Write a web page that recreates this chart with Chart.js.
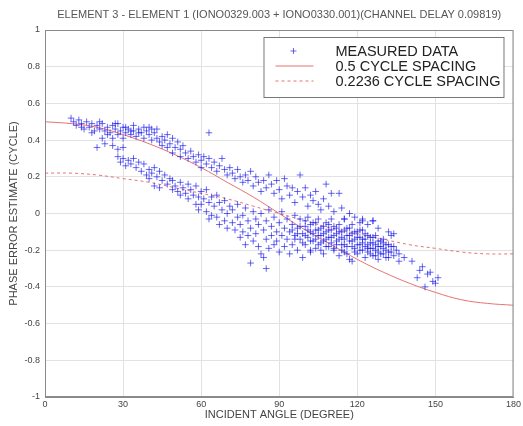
<!DOCTYPE html>
<html lang="en">
<head>
  <meta charset="UTF-8">
  <title>Phase error estimate</title>
  <script src="https://cdn.jsdelivr.net/npm/chart.js"></script>
  <style>
    body {
      margin: 0;
      background: #fff;
    }
    #chart-container {
      width: 523px;
      height: 426px;
    }
  </style>
</head>
<body>
  <div id="chart-container">
    <canvas id="phaseChart" width="523" height="426"></canvas>
  </div>

  <script>
// axis ticks
const xTickValues = [0, 30, 60, 90, 120, 150, 180];
const yTickValues = [-1, -0.8, -0.6, -0.4, -0.2, 0, 0.2, 0.4, 0.6, 0.8, 1];
const yTickLabels = ["-1", "-0.8", "-0.6", "-0.4", "-0.2", "0", "0.2", "0.4", "0.6", "0.8", "1"];

// model curves, every 10 degrees
const curveAngle = [0, 10, 20, 30, 40, 50, 60, 70, 80, 90, 100, 110, 120, 130, 140, 150, 160, 170, 180];
const halfCycle = [0.50, 0.49, 0.47, 0.43, 0.38, 0.32, 0.25, 0.17, 0.09, 0.00, -0.09, -0.17, -0.25, -0.32, -0.38, -0.43, -0.47, -0.49, -0.50];
const smallCycle = [0.22, 0.22, 0.21, 0.19, 0.17, 0.14, 0.11, 0.08, 0.04, 0.00, -0.04, -0.08, -0.11, -0.14, -0.17, -0.19, -0.21, -0.22, -0.22];

// measured points (angle, phase)
const measuredAngle = [
  10, 11, 12, 13, 14, 15, 16, 17, 18, 19, 20, 20, 21, 22, 22, 23, 23, 24, 25, 26, 26, 26, 27, 28, 28, 28, 29, 30, 30, 30,
  31, 32, 33, 34, 34, 35, 36, 37, 38, 39, 40, 40, 41, 42, 43, 43, 44, 45, 45, 46, 47, 47, 48, 49, 49, 50, 51, 52, 52, 53,
  54, 55, 56, 57, 58, 59, 60, 60, 63,
  14, 18, 21, 24, 27, 31, 33, 36, 38, 41,
  61, 62, 63, 64, 65, 66, 67, 68, 69, 70, 71, 72, 73, 74, 75, 76, 77, 78, 79, 80, 81, 82, 83, 84, 85, 86, 87, 88, 89, 90,
  91, 92, 93, 94, 95, 96, 97, 98, 99, 100, 101, 102, 103, 104, 105, 106, 107, 108, 109, 110, 111, 113, 114, 115, 117, 119,
  121, 122, 124, 126, 128, 130, 132, 133, 134,
  28, 29, 30, 31, 32, 33, 34, 35, 36, 37, 38, 39, 40, 40, 41, 42, 42, 43, 44, 44, 45, 46, 47, 48, 49, 49, 50, 51, 52, 52,
  53, 54, 55, 55, 56, 57, 58, 58, 59, 59, 60, 60, 61, 62, 62, 63, 63, 64, 64, 65, 66, 66, 67, 67, 68, 69, 69, 70, 70, 71,
  72, 72, 73, 74, 74, 75, 75, 76, 76, 77, 77, 78, 78, 79, 79, 80, 80, 81, 81, 82, 82, 83, 83, 84, 84, 85, 85, 85, 86, 86,
  87, 87, 88, 88, 89, 89, 90, 90, 91, 91, 92, 92, 93, 93, 94, 94, 95, 95, 96, 96, 97, 97, 98, 98, 99, 99, 100, 100, 101, 101,
  102, 102, 103, 103, 104, 104, 105, 105, 106, 106, 107, 107, 108, 108, 109, 109, 110, 110, 111, 111, 112, 112, 113, 113, 114, 114, 115, 115, 116, 116,
  117, 117, 118, 118, 118, 119, 119, 120, 120, 121, 121, 122, 122, 123, 123, 124, 124, 125, 125, 126, 126, 127, 127, 128, 128, 129, 129, 130, 131, 131,
  132, 133, 134, 135, 136, 138, 141, 143, 144, 145, 146, 147, 148, 149, 150, 151, 122, 126, 115, 102,
  95, 96, 97, 98, 99, 100, 100, 101, 102, 102, 103, 104, 104, 105, 105, 106, 106, 107, 107, 108, 108, 109, 109, 110, 110,
  111, 111, 112, 112, 113, 113, 114, 114, 115, 115, 116, 116, 117, 117, 118, 118, 119, 119, 120, 120, 121, 121, 122, 122,
  123, 123, 124, 124, 125, 125, 126, 126, 127, 127, 128, 128, 129, 130, 130, 131, 132, 132, 133, 134, 136
];
const measuredPhase = [
  0.52, 0.50, 0.48, 0.51, 0.49, 0.46, 0.50, 0.47, 0.49, 0.45, 0.48, 0.36, 0.46, 0.41, 0.49, 0.38, 0.45, 0.47, 0.44, 0.41, 0.37, 0.48, 0.46, 0.43, 0.49, 0.35, 0.45, 0.41, 0.47, 0.36,
  0.44, 0.46, 0.43, 0.48, 0.45, 0.42, 0.46, 0.44, 0.41, 0.45, 0.47, 0.43, 0.40, 0.44, 0.46, 0.41, 0.39, 0.42, 0.37, 0.40, 0.36, 0.43, 0.38, 0.33, 0.41, 0.36, 0.39, 0.31, 0.35, 0.37,
  0.33, 0.30, 0.34, 0.31, 0.28, 0.32, 0.29, 0.25, 0.44,
  0.47, 0.44, 0.50, 0.43, 0.49, 0.47, 0.45, 0.44, 0.47, 0.46,
  0.31, 0.27, 0.30, 0.25, 0.28, 0.23, 0.26, 0.30, 0.24, 0.21, 0.25, 0.22, 0.19, 0.24, 0.20, 0.17, 0.21, 0.18, 0.23, 0.15, 0.20, 0.17, 0.12, 0.18, 0.14, 0.21, 0.16, 0.11, 0.18, 0.13,
  0.08, 0.19, 0.15, 0.10, 0.14, 0.06, 0.12, 0.21, 0.09, 0.14, 0.04, 0.10, 0.07, 0.12, 0.05, 0.02, 0.08, 0.16, 0.04, 0.11, 0.01, 0.11, 0.03, -0.03, 0.00, -0.02,
  -0.05, -0.03, -0.06, -0.04, -0.08, -0.14, -0.10, -0.12, -0.11,
  0.31, 0.28, 0.30, 0.26, 0.29, 0.27, 0.30, 0.25, 0.28, 0.23, 0.27, 0.21, 0.24, 0.19, 0.22, 0.15, 0.25, 0.20, 0.14, 0.23, 0.18, 0.21, 0.16, 0.19, 0.13, 0.18, 0.15, 0.12, 0.17, 0.10,
  0.14, 0.11, 0.16, 0.08, 0.13, 0.10, 0.15, 0.05, 0.09, 0.02, 0.12, 0.05, 0.08, 0.01, 0.13, 0.06, -0.03, 0.09, -0.01, 0.04, 0.10, -0.02, 0.06, -0.06, 0.02, -0.04, 0.07, 0.00, -0.08, 0.04,
  -0.05, 0.02, -0.09, -0.02, 0.05, -0.06, -0.13, -0.01, -0.10, -0.17, 0.03, -0.04, -0.12, -0.08, -0.27, -0.15, 0.01, -0.03, -0.11, -0.18, -0.06, -0.22, 0.00, -0.09, -0.24, -0.14, -0.04, -0.30, -0.19, 0.02,
  -0.07, -0.12, -0.17, -0.02, -0.10, -0.15, -0.05, -0.21, -0.12, 0.01, -0.08, -0.18, -0.03, -0.14, -0.10, -0.22, -0.06, -0.17, -0.01, -0.12, -0.20, -0.08, -0.14, -0.03, -0.11, -0.24, -0.07, -0.17, -0.13, -0.02,
  -0.10, -0.21, -0.05, -0.15, -0.09, -0.19, -0.12, -0.03, -0.16, -0.08, -0.22, -0.11, -0.05, -0.14, -0.18, -0.09, -0.13, -0.03, -0.20, -0.07, -0.15, -0.11, -0.23, -0.06, -0.17, -0.10, -0.14, -0.21, -0.08, -0.18,
  -0.12, -0.25, -0.15, -0.06, -0.26, -0.19, -0.10, -0.13, -0.22, -0.17, -0.09, -0.20, -0.14, -0.11, -0.24, -0.17, -0.21, -0.13, -0.19, -0.23, -0.16, -0.20, -0.12, -0.18, -0.25, -0.22, -0.15, -0.19, -0.24, -0.17,
  -0.21, -0.18, -0.23, -0.20, -0.26, -0.24, -0.26, -0.35, -0.31, -0.29, -0.40, -0.33, -0.32, -0.37, -0.38, -0.35, -0.04, -0.04, -0.03, -0.20,
  -0.09, -0.14, -0.11, -0.07, -0.16, -0.12, -0.04, -0.09, -0.15, -0.06, -0.11, -0.14, -0.05, -0.17, -0.09, -0.12, -0.20, -0.07, -0.15, -0.10, -0.18, -0.13, -0.06, -0.16, -0.09,
  -0.12, -0.19, -0.08, -0.17, -0.14, -0.10, -0.20, -0.13, -0.09, -0.17, -0.12, -0.22, -0.15, -0.08, -0.18, -0.11, -0.14, -0.21, -0.10, -0.17, -0.13, -0.20, -0.16, -0.09,
  -0.18, -0.14, -0.12, -0.19, -0.16, -0.22, -0.13, -0.19, -0.17, -0.23, -0.15, -0.21, -0.18, -0.16, -0.22, -0.20, -0.17, -0.24, -0.21, -0.18, -0.22
];

const legendLabels = ["MEASURED DATA", "0.5 CYCLE SPACING", "0.2236 CYCLE SPACING"];

const measuredPoints = measuredAngle.map((a, i) => ({ x: a, y: measuredPhase[i] }));
const halfPoints = curveAngle.map((a, i) => ({ x: a, y: halfCycle[i] }));
const smallPoints = curveAngle.map((a, i) => ({ x: a, y: smallCycle[i] }));

const pointBlue = "rgba(25, 25, 235, 0.65)";
const curveRed = "rgba(228, 100, 100, 0.9)";
const textFont = "'Liberation Sans', Arial, sans-serif";

// legend box drawn inside the plot, plus the frame round the plot
const boxLegend = {
  id: "boxLegend",
  afterDraw(chart) {
    const ctx = chart.ctx;
    const area = chart.chartArea;
    ctx.save();
    ctx.strokeStyle = "#8a8a8a";
    ctx.lineWidth = 1;
    ctx.strokeRect(area.left + 0.5, area.top + 0.5, area.right - area.left - 1, area.bottom - area.top - 1);

    const bx = area.right - 250, by = area.top + 7, bw = 240, bh = 60;
    ctx.fillStyle = "#fff";
    ctx.fillRect(bx, by, bw, bh);
    ctx.strokeStyle = "#777";
    ctx.strokeRect(bx + 0.5, by + 0.5, bw, bh);

    const rows = [by + 14, by + 29, by + 44];
    // marker
    ctx.strokeStyle = pointBlue;
    ctx.beginPath();
    ctx.moveTo(bx + 27, rows[0]); ctx.lineTo(bx + 33, rows[0]);
    ctx.moveTo(bx + 30, rows[0] - 3); ctx.lineTo(bx + 30, rows[0] + 3);
    ctx.stroke();
    // solid line
    ctx.strokeStyle = curveRed;
    ctx.beginPath();
    ctx.moveTo(bx + 12, rows[1]); ctx.lineTo(bx + 50, rows[1]);
    ctx.stroke();
    // dashed line
    ctx.setLineDash([3, 3]);
    ctx.beginPath();
    ctx.moveTo(bx + 12, rows[2]); ctx.lineTo(bx + 50, rows[2]);
    ctx.stroke();
    ctx.setLineDash([]);

    ctx.fillStyle = "#222";
    ctx.font = "14.5px " + textFont;
    ctx.textBaseline = "middle";
    ctx.textAlign = "left";
    legendLabels.forEach((t, i) => ctx.fillText(t, bx + 72, rows[i] + 1));
    ctx.restore();
  }
};

const ctx = document.getElementById("phaseChart").getContext("2d");
new Chart(ctx, {
  type: "scatter",
  data: {
    datasets: [
      {
        label: legendLabels[0],
        data: measuredPoints,
        pointStyle: "cross",
        pointRadius: 3.3,
        pointBorderWidth: 1,
        borderColor: pointBlue,
        backgroundColor: pointBlue,
        order: 1
      },
      {
        label: legendLabels[1],
        data: halfPoints,
        showLine: true,
        pointRadius: 0,
        borderColor: curveRed,
        borderWidth: 1,
        tension: 0.4,
        order: 2
      },
      {
        label: legendLabels[2],
        data: smallPoints,
        showLine: true,
        pointRadius: 0,
        borderColor: curveRed,
        borderWidth: 1,
        borderDash: [3, 3],
        tension: 0.4,
        order: 2
      }
    ]
  },
  options: {
    responsive: false,
    animation: false,
    layout: {
      padding: { left: 0, right: 8, top: 0, bottom: 0 }
    },
    plugins: {
      legend: { display: false },
      tooltip: { enabled: false },
      title: {
        display: true,
        fullSize: false,
        text: "ELEMENT 3 - ELEMENT 1 (IONO0329.003 + IONO0330.001)(CHANNEL DELAY 0.09819)",
        color: "#555",
        font: { family: textFont, size: 11, weight: "normal" },
        padding: { top: 8.5, bottom: 8.3 }
      }
    },
    scales: {
      x: {
        type: "linear",
        min: 0,
        max: 180,
        afterBuildTicks: s => { s.ticks = xTickValues.map(v => ({ value: v })); },
        afterFit: s => { s.height = 29; },
        grid: { color: "#e2e2e2", drawTicks: false },
        border: { color: "#8a8a8a" },
        ticks: {
          padding: 2,
          color: "#444",
          font: { family: textFont, size: 9 }
        },
        title: {
          display: true,
          text: "INCIDENT ANGLE (DEGREE)",
          color: "#444",
          font: { family: textFont, size: 11 },
          padding: { top: 4, bottom: 4 }
        }
      },
      y: {
        type: "linear",
        min: -1,
        max: 1,
        afterBuildTicks: s => { s.ticks = yTickValues.map(v => ({ value: v })); },
        afterFit: s => { s.width = 45; },
        grid: { color: "#e2e2e2", drawTicks: false },
        border: { color: "#8a8a8a" },
        ticks: {
          padding: 5,
          color: "#444",
          font: { family: textFont, size: 9 },
          callback: (v, i) => yTickLabels[i]
        },
        title: {
          display: true,
          text: "PHASE ERROR ESTIMATE (CYCLE)",
          color: "#444",
          font: { family: textFont, size: 11 },
          padding: { top: 7, bottom: 7 }
        }
      }
    }
  },
  plugins: [boxLegend]
});
  </script>
</body>
</html>
